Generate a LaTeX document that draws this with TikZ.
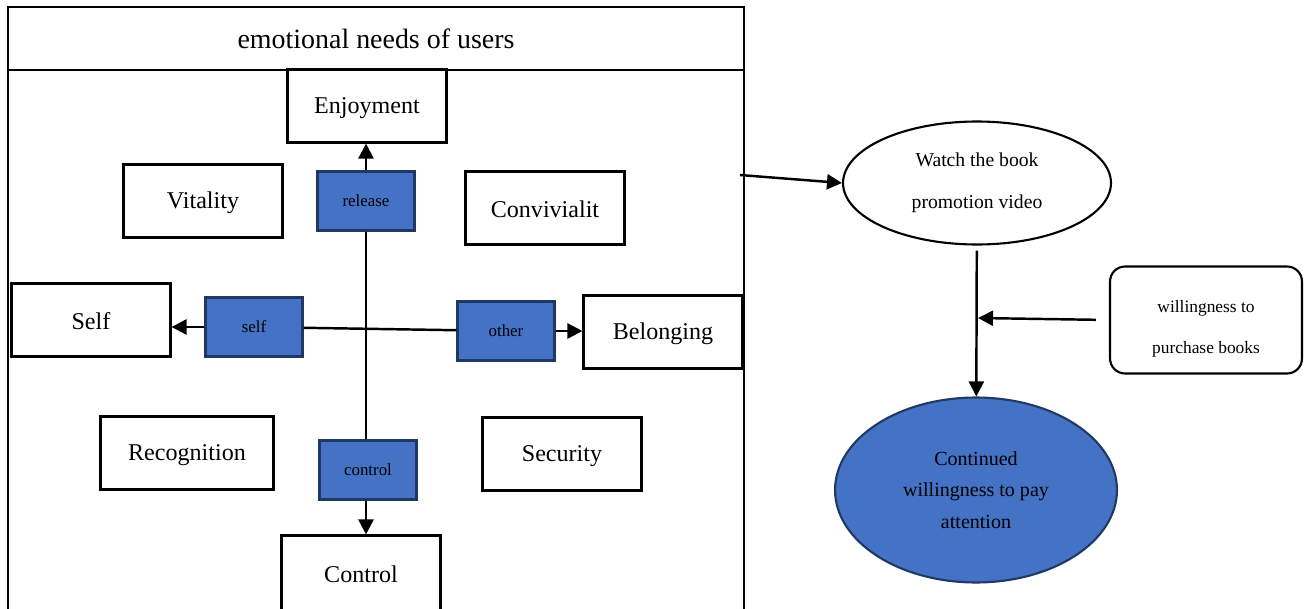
\documentclass[tikz,border=0pt]{standalone}
\usepackage{fontspec}
\setmainfont{Liberation Serif}
\usepackage{tikz}
\usetikzlibrary{positioning,arrows.meta,shapes.geometric}

\definecolor{boxblue}{HTML}{4472C4}
\definecolor{edgeblue}{HTML}{1F3864}

\begin{document}
\begin{tikzpicture}[x = 0.02cm, y = -0.02cm, > = {Triangle[length=0.3cm, width=0.3cm]},
line width = 1.4pt,
need/.style={ rectangle, draw, line width = 1.2pt, minimum width = 3.18cm, minimum height = 1.46cm, text height = 0.4cm, font = \fontsize{13.7}{16}\selectfont },
dir/.style={ rectangle, draw = edgeblue, line width = 1.3pt, fill = boxblue, minimum width = 1.94cm, minimum height = 1.18cm, font = \fontsize{9.6}{11}\selectfont },
oval/.style={ ellipse, draw, line width = 1.2pt, inner sep = 0pt, align = center }
]
\useasboundingbox (0,0) rectangle (1307,608);
%frame of the needs
\node (title) at (376,38.5) [rectangle, draw, line width = 1.2pt, minimum width = 14.72cm, minimum height = 1.26cm, font = \fontsize{15.9}{18}\selectfont] {emotional needs of users};
\draw[line width = 1.2pt] (8,70) rectangle (744,612);

%the needs and the directions
\node (enjoy) at (367,106) [need] {Enjoyment};
\node (vital) at (203,201) [need] {Vitality};
\node (conviv) at (545,208) [need] {Convivialit};
\node (self) at (91,320) [need] {Self};
\node (belong) at (663,332) [need] {Belonging};
\node (recog) at (187,453) [need, minimum width = 3.46cm] {Recognition};
\node (secur) at (562,454) [need] {Security};
\node (control) at (361,573) [need, minimum height = 1.5cm] {Control};

\node (release) at (366,201) [dir] {release};
\node (selfdir) at (254,327) [dir] {self};
\node (otherdir) at (506,331) [dir] {other};
\node (ctrldir) at (368,470) [dir] {control};

\draw[->] (release) -- (enjoy.south-|release);
\draw (release) -- (ctrldir.north-|release);
\draw[->] (ctrldir.south-|release) -- (control.north-|release);
\draw[->] (selfdir) -- (selfdir-|self.east);
\draw (selfdir) -- (otherdir);
\draw[->] (otherdir) -- (otherdir-|belong.west);

%right hand side
\node (watch) at (977,183) [oval, minimum width = 5.36cm, minimum height = 2.46cm, font = \fontsize{11.2}{24}\selectfont] {Watch the book\\promotion video};
\node (cont) at (976,490) [oval, draw = edgeblue, fill = boxblue, minimum width = 5.64cm, minimum height = 3.7cm, font = \fontsize{11.4}{18}\selectfont] {Continued\\willingness to pay\\attention};
\node (will) at (1206,320) [rectangle, draw, line width = 1.2pt, rounded corners = 0.3cm, minimum width = 3.84cm, minimum height = 2.14cm, text height = 1.41cm, align = center, font = \fontsize{9.9}{23}\selectfont] {willingness to\\purchase books};

\coordinate (out) at (740,175);
\coordinate (join) at (978,318);
\draw[->] (out) -- (watch.west);
\draw[->, shorten < = 0.1cm] (watch) -- (cont);
\draw[->, shorten < = 0.26cm] (will.west) -- (join);
\end{tikzpicture}
\end{document}
